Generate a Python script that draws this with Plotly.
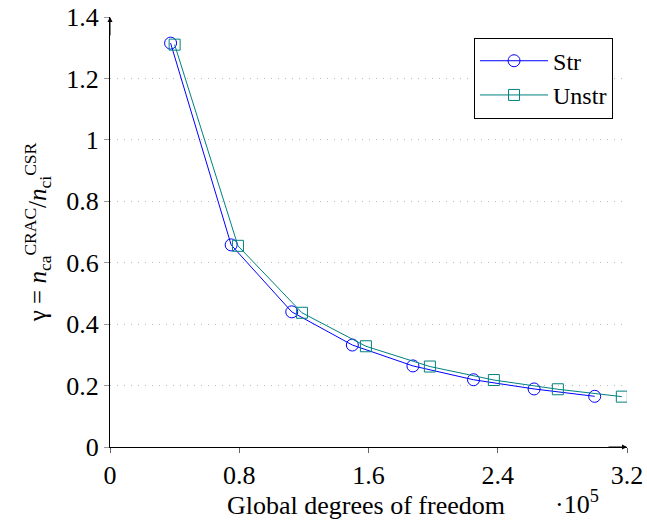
import plotly.graph_objects as go

# Global degrees of freedom (raw) and gamma ratio
dof_str = [37500, 75000, 112500, 150000, 187500, 225000, 262500, 300000]
gamma_str = [1.315, 0.658, 0.440, 0.332, 0.264, 0.219, 0.189, 0.165]

dof_unstr = [40000, 79200, 118800, 158400, 198000, 237600, 277200, 316800]
gamma_unstr = [1.310, 0.655, 0.437, 0.328, 0.262, 0.218, 0.188, 0.164]

x_tickvals = [0, 80000, 160000, 240000, 320000]
x_ticktext = ["0", "0.8", "1.6", "2.4", "3.2"]
y_tickvals = [0, 0.2, 0.4, 0.6, 0.8, 1.0, 1.2, 1.4]

FONT = "Liberation Serif"
BLUE = "#0000ff"
TEAL = "#008080"

fig = go.Figure()
fig.add_trace(go.Scatter(
    x=dof_str, y=gamma_str, name="Str", mode="lines+markers",
    line=dict(color=BLUE, width=1),
    marker=dict(symbol="circle-open", size=12, color=BLUE, line=dict(width=1)),
))
fig.add_trace(go.Scatter(
    x=dof_unstr, y=gamma_unstr, name="Unstr", mode="lines+markers",
    line=dict(color=TEAL, width=1),
    marker=dict(symbol="square-open", size=11, color=TEAL, line=dict(width=1)),
))

fig.update_layout(
    width=647,
    height=520,
    margin=dict(l=110, r=20, t=17, b=73, autoexpand=False),
    plot_bgcolor="white",
    paper_bgcolor="white",
    font=dict(family=FONT, size=26, color="black"),
    showlegend=True,
    legend=dict(
        x=0.973, y=0.952, xanchor="right", yanchor="top",
        bordercolor="black", borderwidth=1, bgcolor="white",
        font=dict(size=24), tracegroupgap=0, itemwidth=68,
    ),
    xaxis=dict(
        range=[0, 320000], tickvals=x_tickvals, ticktext=x_ticktext,
        showline=True, linecolor="black", linewidth=1,
        showgrid=False, zeroline=False, automargin=False,
        ticks="outside", ticklen=5, tickcolor="#666", mirror=False,
    ),
    yaxis=dict(
        range=[0, 1.4], tickvals=y_tickvals,
        showline=True, linecolor="black", linewidth=1,
        showgrid=True, gridcolor="#bbbbbb", griddash="1px,6px", gridwidth=1,
        zeroline=False, automargin=False,
        ticks="outside", ticklen=5, tickcolor="#999",
        title=dict(
            text="γ = <i>n</i><sub>ca</sub><sup>CRAC</sup>/<i>n</i><sub>ci</sub><sup>CSR</sup>",
            standoff=12, font=dict(size=25),
        ),
    ),
)

# axis arrows
fig.add_annotation(x=0, y=1.4, xref="x", yref="y", ax=0, ay=20,
                   showarrow=True, arrowhead=2, arrowsize=1, arrowwidth=1,
                   arrowcolor="black", text="")
fig.add_annotation(x=320000, y=0, xref="x", yref="y", ax=-20, ay=0,
                   showarrow=True, arrowhead=2, arrowsize=1, arrowwidth=1,
                   arrowcolor="black", text="")

fig.add_annotation(x=0.495, y=-0.135, xref="paper", yref="paper",
                   text="Global degrees of freedom", showarrow=False,
                   xanchor="center", yanchor="middle", font=dict(size=26))
fig.add_annotation(x=0.903, y=-0.13, xref="paper", yref="paper",
                   text="·10<sup>5</sup>", showarrow=False,
                   xanchor="center", yanchor="middle", font=dict(size=26))

fig.write_html("out.html", config={"displayModeBar": False},
               post_script="document.body.style.margin = '0';")
